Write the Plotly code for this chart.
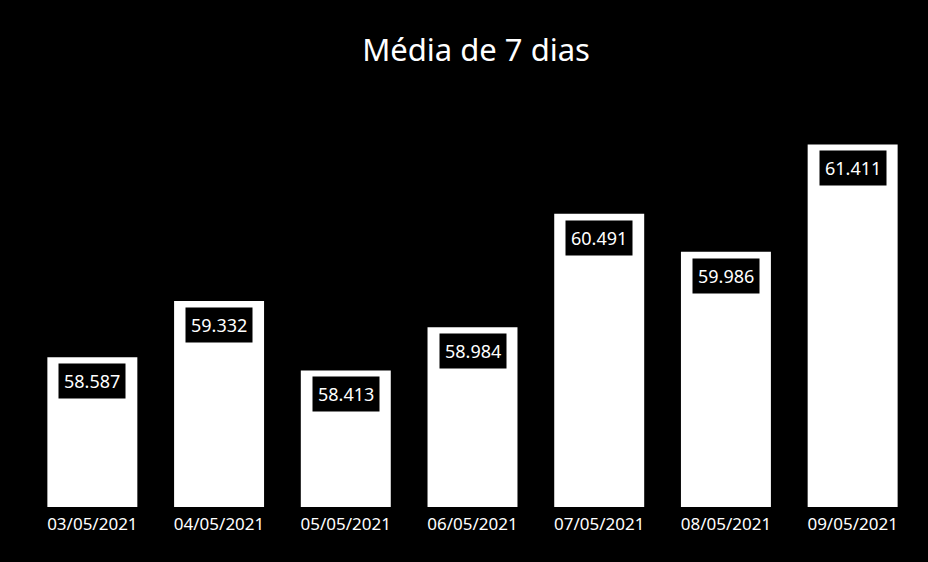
import plotly.graph_objects as go

# 7-day moving average of daily values
datas = ["03/05/2021", "04/05/2021", "05/05/2021", "06/05/2021",
         "07/05/2021", "08/05/2021", "09/05/2021"]
medias = [58587, 59332, 58413, 58984, 60491, 59986, 61411]

FONT = "Noto Sans, Open Sans, sans-serif"

fig = go.Figure(
    go.Bar(
        x=datas,
        y=medias,
        marker=dict(color="white", line=dict(width=0)),
        hoverinfo="x+y",
    )
)

# value labels: white numbers on black boxes, just inside the top of each bar
for d, v in zip(datas, medias):
    fig.add_annotation(
        x=d, y=v, xref="x", yref="y",
        text=f"{v:,}".replace(",", "."),
        showarrow=False,
        yanchor="top", yshift=-6,
        bgcolor="black", borderpad=5,
        font=dict(family=FONT, size=18, color="white"),
    )

fig.update_layout(
    width=928, height=562,
    paper_bgcolor="black", plot_bgcolor="black",
    margin=dict(l=29, r=12, t=85, b=55),
    bargap=0.29,
    showlegend=False,
    title=dict(
        text="Média de 7 dias",
        x=0.513, xanchor="center",
        y=0.91, yanchor="middle",
        font=dict(family=FONT, size=31, color="white"),
    ),
    xaxis=dict(
        type="category",
        showgrid=False, zeroline=False, showline=False,
        ticks="", ticklabelstandoff=5,
        tickfont=dict(family=FONT, size=17, color="white"),
    ),
    yaxis=dict(
        range=[56600, 62200],
        visible=False,
        showgrid=False, zeroline=False,
    ),
)

fig.write_html("out.html")
